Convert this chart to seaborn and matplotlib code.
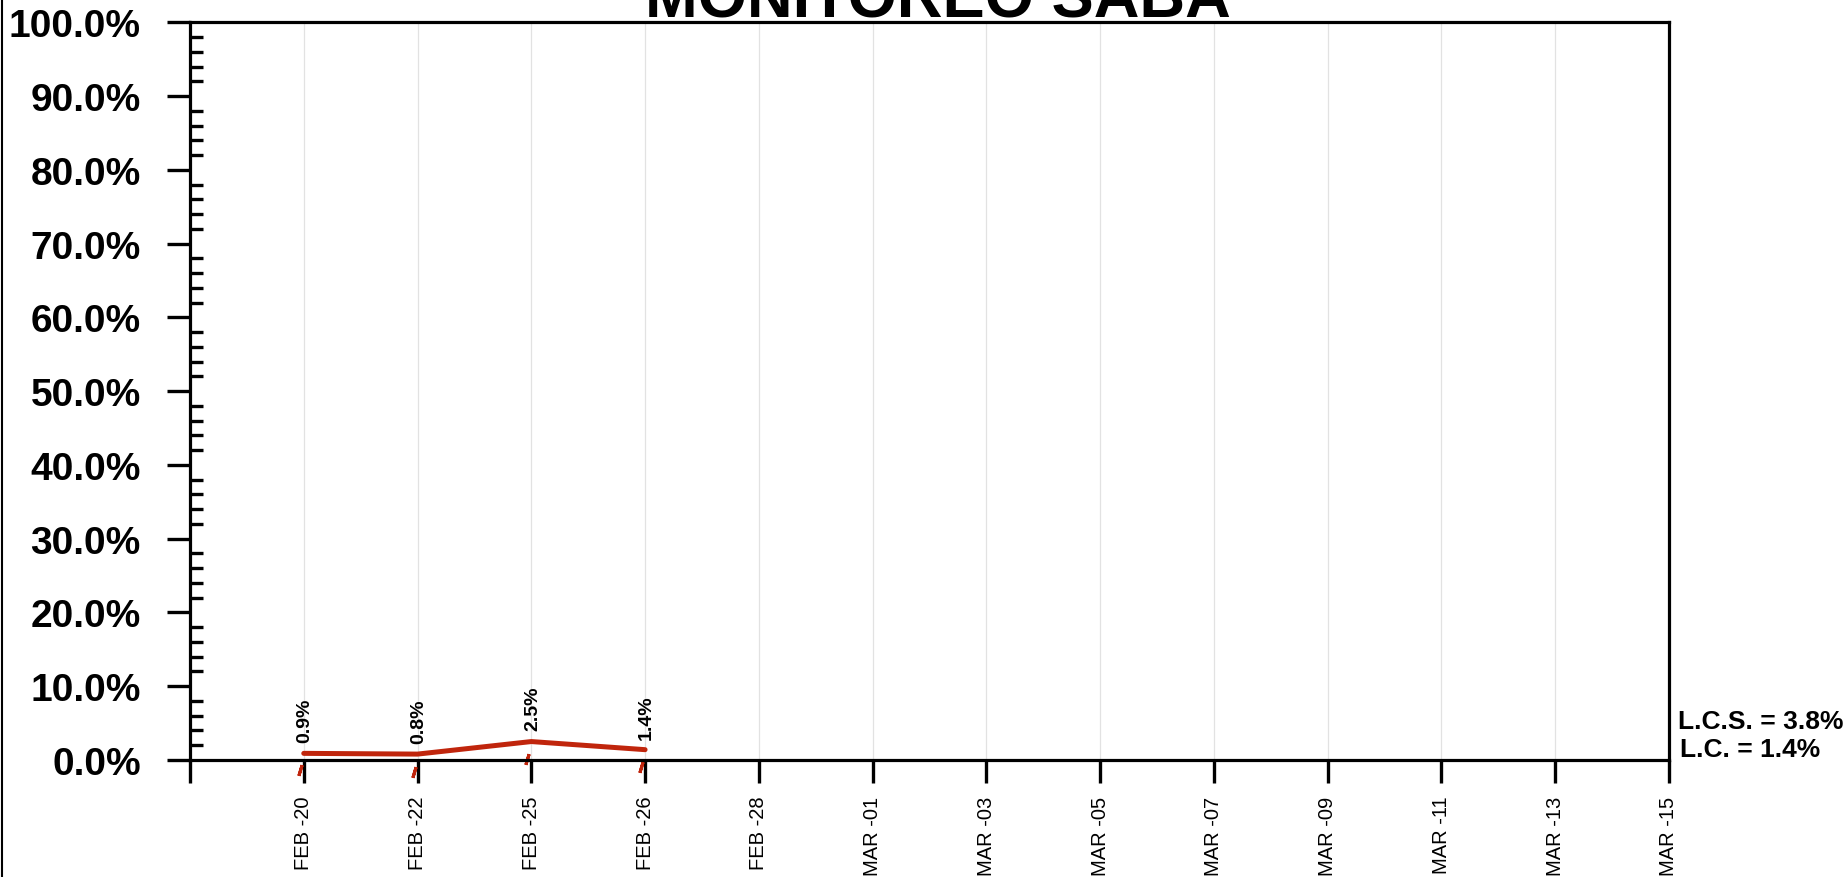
import numpy as np
import pandas as pd
import matplotlib
matplotlib.use('Agg')
import matplotlib.pyplot as plt
from matplotlib.ticker import MultipleLocator
from matplotlib.lines import Line2D
import seaborn as sns

# ---------------- data ----------------
titulo = 'MONITOREO SABA'
fechas = ['FEB -20', 'FEB -22', 'FEB -25', 'FEB -26', 'FEB -28', 'MAR -01',
          'MAR -03', 'MAR -05', 'MAR -07', 'MAR -09', 'MAR -11', 'MAR -13',
          'MAR -15']
porcentajes = [0.9, 0.8, 2.5, 1.4]          # % values of the plotted series
marcas = [-1.4, -1.6, 0.2, -0.9]            # small red slash marks near the axis
lcs = 3.8
lc = 1.4
y_ticks = [0, 10, 20, 30, 40, 50, 60, 70, 80, 90, 100]

# ---------------- style ----------------
sns.set_theme(style='white')
plt.rcParams['font.family'] = ['Liberation Sans', 'DejaVu Sans']

W, H = 1845, 878
fig = plt.figure(figsize=(W / 100, H / 100), dpi=100)
L, R, T, B = 190, 1669, 23.3, 761
ax = fig.add_axes([L / W, 1 - B / H, (R - L) / W, (B - T) / H])

rojo = '#C0250C'
pos = np.arange(1, len(porcentajes) + 1)
df = pd.DataFrame({'pos': pos, 'valor': porcentajes})
sns.lineplot(data=df, x='pos', y='valor', color=rojo, linewidth=3.6,
             solid_capstyle='round', ax=ax)

dm = pd.DataFrame({'pos': pos - 0.035, 'valor': marcas})
sns.lineplot(data=dm, x='pos', y='valor', marker=(2, 2, -17), linestyle='',
             markersize=8, markeredgewidth=2.2, markeredgecolor=rojo,
             color=rojo, clip_on=False, ax=ax)

for x, v in zip(pos, porcentajes):
    ax.annotate(f'{v:.1f}%', (x, v), xytext=(1, 8), textcoords='offset points',
                rotation=90, ha='center', va='bottom', fontsize=14,
                fontweight='bold', color='black')

ax.set_xlim(0, len(fechas))
ax.set_ylim(0, 100)
ax.set_xlabel('')
ax.set_ylabel('')

ax.set_yticks(y_ticks)
ax.set_yticklabels([f'{v:.1f}%' for v in y_ticks], fontweight='bold')
ax.yaxis.set_minor_locator(MultipleLocator(2))
ax.tick_params(axis='y', which='major', direction='out', length=16.5, width=2.4,
               pad=19, labelsize=28, left=True, colors='black')
ax.tick_params(axis='y', which='minor', direction='in', length=9.4, width=2.4,
               left=True, color='black')

ax.set_xticks(range(0, len(fechas) + 1))
ax.set_xticklabels([''] + fechas, rotation=90)
ax.tick_params(axis='x', which='major', direction='out', length=16.5, width=2.4,
               pad=9, labelsize=14.5, bottom=True, colors='black')

ax.grid(axis='x', color='#e2e2e2', linewidth=0.9, linestyle='-')
ax.grid(axis='y', visible=False)
ax.set_axisbelow(True)

for s in ax.spines.values():
    s.set_visible(True)
    s.set_linewidth(2.3)
    s.set_color('black')

fig.text(938 / W, 1 - 17.3 / H, titulo, ha='center', va='baseline',
         fontsize=45.5, fontweight='bold', color='black')
fig.text(1678 / W, 1 - 729.3 / H, f'L.C.S. = {lcs:.1f}%', ha='left',
         va='baseline', fontsize=19, fontweight='bold', color='black')
fig.text(1680 / W, 1 - 756.7 / H, f'L.C. = {lc:.1f}%', ha='left',
         va='baseline', fontsize=19, fontweight='bold', color='black')

fig.add_artist(Line2D([2 / W, 2 / W], [0, 1], color='black', linewidth=1.5))

fig.savefig('out.png', dpi=100)
